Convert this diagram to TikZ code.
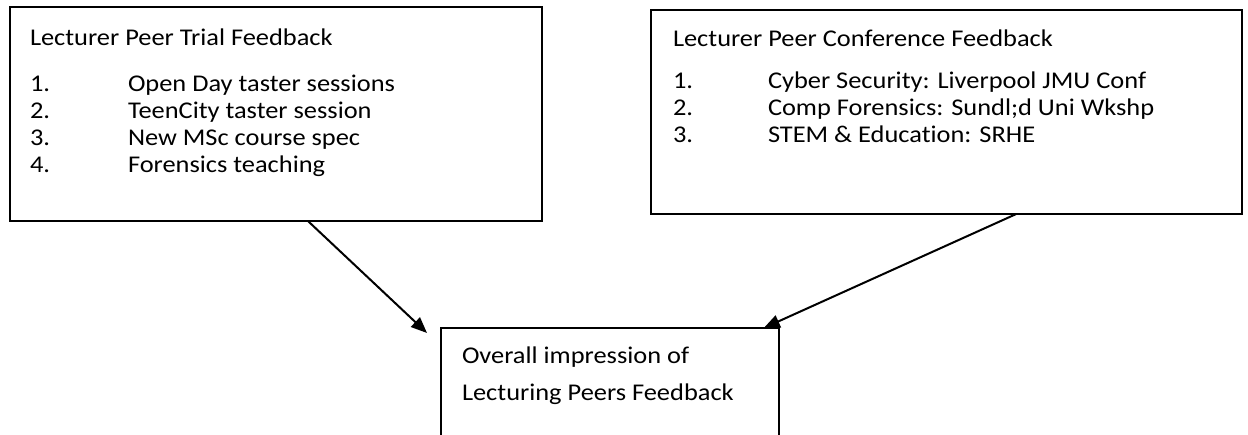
\documentclass[tikz,border=0pt]{standalone}
\usepackage{fontspec}
\newfontfamily\boxfont[FakeStretch=1.1, Ligatures=NoCommon]{Carlito}
\usetikzlibrary{arrows.meta,calc}

\tikzset{
  panel/.style={draw=black, line width=1.6pt, fill=white, anchor=north west,
                inner sep=0pt, outer sep=0pt},
  txt/.style={anchor=base west, inner sep=0pt, outer sep=0pt,
              font=\boxfont\fontsize{24}{27}\selectfont, text=black},
  feed/.style={draw=black, line width=2pt,
               -{Triangle[length=16pt, width=13pt]}}
}

\begin{document}
\begin{tikzpicture}[x=1pt, y=-1pt]
  \clip (0,0) rectangle (1248,434);
  \fill[white] (0,0) rectangle (1248,434);

  % left panel: trial feedback
  \node[panel, minimum width=532pt, minimum height=214pt] (trial) at (10,7) {};
  \node[txt] (trialT) at (30,45) {Lecturer Peer Trial Feedback};
  \node[txt] (t1n) at (30,91) {1.};
  \node[txt] (t1) at (128,91) {Open Day taster sessions};
  \node[txt] (t2n) at (30,118) {2.};
  \node[txt] (t2) at (128,118) {TeenCity taster session};
  \node[txt] (t3n) at (30,145) {3.};
  \node[txt] (t3) at (128,145) {New MSc course spec};
  \node[txt] (t4n) at (30,172) {4.};
  \node[txt] (t4) at (128,172) {Forensics teaching};

  % right panel: conference feedback
  \node[panel, minimum width=591pt, minimum height=204pt] (conf) at (651,10) {};
  \node[txt] (confT) at (673,46) {Lecturer Peer Conference Feedback};
  \node[txt] (c1n) at (673,88) {1.};
  \node[txt] (c1) at (768,88) {Cyber Security: Liverpool JMU Conf};
  \node[txt] (c2n) at (673,115) {2.};
  \node[txt] (c2) at (768,115) {Comp Forensics: Sundl;d Uni Wkshp};
  \node[txt] (c3n) at (673,142) {3.};
  \node[txt] (c3) at (768,142) {STEM \& Education: SRHE};

  % summary panel, running off the bottom edge
  \node[panel, minimum width=338pt, minimum height=140pt] (overall) at (441,328) {};
  \node[txt] (oa) at (462,363) {Overall impression of};
  \node[txt] (ob) at (462,400) {Lecturing Peers Feedback};

  % connectors
  \coordinate (tipL) at (427,333);
  \draw[feed] ($(trial.south west)!0.56!(trial.south east)$) -- (tipL);
  \draw[feed] ($(conf.south west)!0.618!(conf.south east)$)
           -- ($(overall.north west)!0.955!(overall.north east)$);
\end{tikzpicture}
\end{document}
